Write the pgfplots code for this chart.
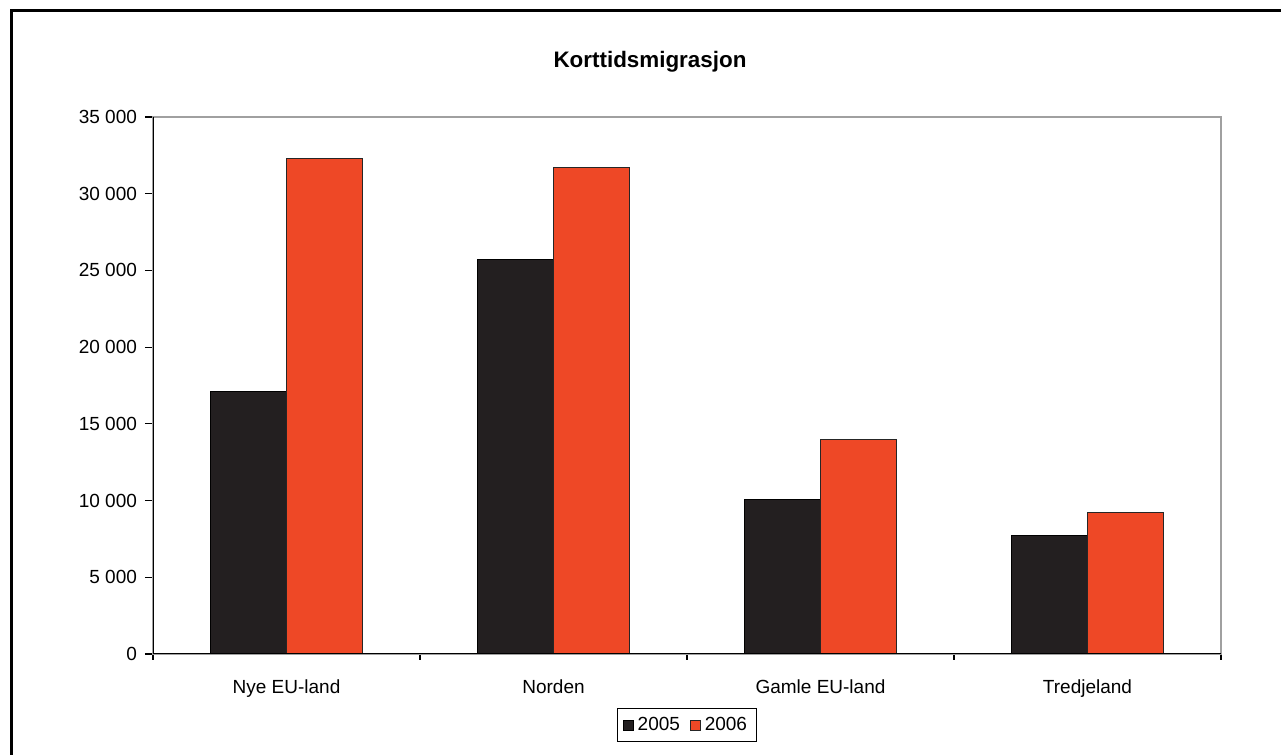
\documentclass[border=0pt]{standalone}
\usepackage{pgfplots}
\pgfplotsset{compat=1.18}
\usepackage{fontspec}
\setmainfont{Liberation Sans}

\definecolor{bar05}{HTML}{231F20}
\definecolor{bar06}{HTML}{EE4826}
\definecolor{framegray}{HTML}{A0A0A0}

\pgfplotstableread{
x  y2005  y2006
0  17100  32300
1  25700  31700
2  10100  13950
3   7700   9200
}\migdata

\begin{document}
\begin{tikzpicture}
  \useasboundingbox (0,0) rectangle (640.5pt,377.5pt);
  % outer chart frame
  \draw[line width=1.5pt] (5.5pt,-10pt) -- (5.5pt,372pt) -- (650pt,372pt);
  \node[font=\fontsize{11.2}{13}\selectfont\bfseries] at (325pt,346.5pt) {Korttidsmigrasjon};
  \begin{axis}[
    at={(76.5pt,50.5pt)}, anchor=south west,
    scale only axis,
    width=534pt, height=268.5pt,
    xmin=-0.5, xmax=3.5,
    ymin=0, ymax=35000,
    ybar=0pt, bar width=38pt,
    axis line style={framegray, line width=0.6pt},
    xtick={0,1,2,3},
    xticklabels={Nye EU-land, Norden, Gamle EU-land, Tredjeland},
    minor xtick={-0.5,0.5,1.5,2.5,3.5},
    major x tick style={draw=none},
    minor x tick style={draw=black, line width=0.6pt},
    minor tick length=3pt,
    ytick={0,5000,...,35000},
    yticklabels={0,5 000,10 000,15 000,20 000,25 000,30 000,35 000},
    scaled y ticks=false,
    major tick length=4pt,
    ytick style={draw=black, line width=0.6pt},
    tick align=outside,
    tick pos=left,
    /pgf/number format/assume math mode=true,
    tick label style={font=\fontsize{9.5}{11}\selectfont},
    xticklabel style={yshift=-5.5pt},
    yticklabel style={xshift=-0.5pt},
    legend columns=2,
    legend style={at={(0.5,0)}, anchor=center, yshift=-35.5pt,
      draw=black, line width=0.5pt, inner xsep=2.5pt, inner ysep=2pt,
      font=\fontsize{9.5}{11}\selectfont,
      /tikz/every even column/.append style={column sep=3pt}},
    legend image code/.code={\draw[#1, line width=0.4pt] (0pt,-2.5pt) rectangle (5pt,2.5pt);},
  ]
    \addplot[fill=bar05, draw=black, line width=0.5pt] table[x=x, y=y2005] {\migdata};
    \addplot[fill=bar06, draw=black!85, line width=0.5pt] table[x=x, y=y2006] {\migdata};
    \legend{2005, 2006}
    \draw[black, line width=0.6pt] (rel axis cs:0,1) -- (rel axis cs:0,0) -- (rel axis cs:1,0);
  \end{axis}
\end{tikzpicture}
\end{document}
